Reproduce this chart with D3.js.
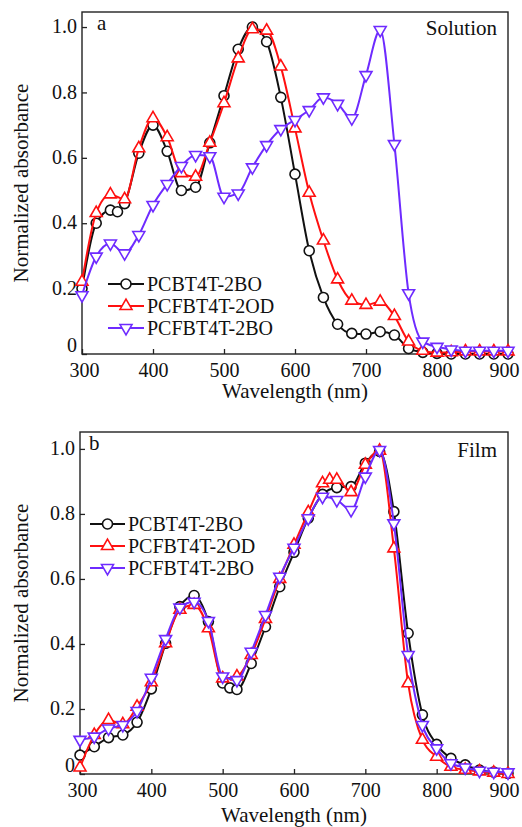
<!DOCTYPE html>
<html>
<head>
<meta charset="utf-8">
<script src="https://cdn.jsdelivr.net/npm/d3@7"></script>
<style>
  body { margin: 0; background: #fff; }
  text { font-family: "Liberation Serif", "Times New Roman", serif; fill: #111; }
</style>
</head>
<body>
<div id="chart"></div>
<script>
// series names
const names = ["PCBT4T-2BO", "PCFBT4T-2OD", "PCFBT4T-2BO"];
const xTicks = [300, 400, 500, 600, 700, 800, 900];
const yTicks = [0, 0.2, 0.4, 0.6, 0.8, 1.0];

// (a) solution
const wlSolBlack = [300,320,340,350,360,380,400,420,440,460,480,500,520,540,560,580,600,620,640,660,680,700,720,740,760,780,800,820,840,860,880,900];
const absSolBlack = [0.20,0.40,0.44,0.435,0.46,0.614,0.70,0.62,0.50,0.51,0.646,0.79,0.932,1.0,0.955,0.785,0.55,0.316,0.173,0.091,0.063,0.061,0.068,0.058,0.017,0.005,0.002,0.0,0.0,0.0,0.0,0.0];
const wlSol = [300,320,340,360,380,400,420,440,460,480,500,520,540,560,580,600,620,640,660,680,700,720,740,760,780,800,820,840,860,880,900];
const absSolRed = [0.221,0.431,0.488,0.473,0.629,0.721,0.663,0.553,0.542,0.646,0.767,0.904,0.993,0.989,0.879,0.69,0.493,0.347,0.228,0.163,0.15,0.16,0.116,0.038,0.01,0.004,0.005,0.008,0.008,0.008,0.008];
const absSolPurple = [0.18,0.298,0.338,0.308,0.364,0.456,0.52,0.575,0.609,0.605,0.481,0.491,0.571,0.639,0.688,0.716,0.746,0.785,0.765,0.721,0.853,0.991,0.642,0.186,0.038,0.022,0.014,0.01,0.01,0.01,0.01];

// (b) film
const wlFilmBlack = [300,320,340,360,380,400,420,440,460,480,500,510,520,540,560,580,600,620,640,660,680,700,720,740,760,780,800,820,840,860,880,900];
const absFilmBlack = [0.058,0.084,0.112,0.12,0.159,0.262,0.402,0.515,0.549,0.469,0.28,0.265,0.26,0.34,0.453,0.576,0.682,0.787,0.86,0.881,0.884,0.956,0.992,0.807,0.433,0.182,0.091,0.048,0.028,0.012,0.006,0.002];
const wlFilmRed = [300,320,340,360,380,400,420,440,460,480,500,520,540,560,580,600,620,640,650,660,680,700,720,740,760,780,800,820,840,860,880,900];
const absFilmRed = [0.02,0.12,0.166,0.153,0.207,0.282,0.402,0.505,0.52,0.448,0.294,0.30,0.366,0.477,0.60,0.705,0.805,0.894,0.905,0.905,0.867,0.951,0.994,0.694,0.279,0.105,0.053,0.022,0.013,0.008,0.004,0.0];
const wlFilm = [300,320,340,360,380,400,420,440,460,480,500,520,540,560,580,600,620,640,660,680,700,720,740,760,780,800,820,840,860,880,900];
const absFilmPurple = [0.105,0.115,0.14,0.151,0.194,0.296,0.415,0.512,0.53,0.471,0.30,0.289,0.376,0.489,0.607,0.696,0.787,0.853,0.843,0.812,0.915,0.997,0.771,0.366,0.151,0.079,0.033,0.02,0.01,0.007,0.005];

const colors = ["#111111", "#ff1010", "#6e2bff"];
const shapes = ["circle", "up", "down"];

const panels = [
  { letter: "a", tag: "Solution", left: 82, right: 508, top: 12, bottom: 354, ymax: 1.046, titleDy: 44,
    series: [d3.zip(wlSolBlack, absSolBlack), d3.zip(wlSol, absSolRed), d3.zip(wlSol, absSolPurple)],
    legend: { x0: 108, x1: 144, y: 284, dy: 22, tx: 147 }, letterX: 97, letterY: 30, tagY: 35 },
  { letter: "b", tag: "Film", left: 80, right: 508, top: 432, bottom: 774, ymax: 1.052, titleDy: 48,
    series: [d3.zip(wlFilmBlack, absFilmBlack), d3.zip(wlFilmRed, absFilmRed), d3.zip(wlFilm, absFilmPurple)],
    legend: { x0: 90, x1: 125, y: 524, dy: 22, tx: 128 }, letterX: 89, letterY: 450, tagY: 457 }
];

const svg = d3.select("#chart").append("svg")
  .attr("width", 522).attr("height", 827);

function marker(g, shape, color) {
  if (shape === "circle") {
    g.append("circle").attr("r", 5)
      .attr("fill", "#fff").attr("stroke", color).attr("stroke-width", 1.6);
  } else {
    g.append("path")
      .attr("d", d3.symbol().type(d3.symbolTriangle).size(62)())
      .attr("transform", shape === "down" ? "rotate(180)" : null)
      .attr("fill", "#fff").attr("stroke", color).attr("stroke-width", 1.6);
  }
}

panels.forEach(function(p) {
  const x = d3.scaleLinear().domain([300, 900]).range([p.left, p.right]);
  const y = d3.scaleLinear().domain([0, p.ymax]).range([p.bottom, p.top]);
  const g = svg.append("g");

  // axes (ticks point inward)
  const xa = g.append("g").attr("transform", "translate(0," + p.bottom + ")")
    .call(d3.axisBottom(x).tickValues(xTicks).tickSizeInner(-5).tickSizeOuter(0).tickPadding(9));
  const ya = g.append("g").attr("transform", "translate(" + p.left + ",0)")
    .call(d3.axisLeft(y).tickValues(yTicks).tickSizeInner(-5).tickSizeOuter(0).tickPadding(5)
      .tickFormat(function(d) { return d === 0 ? "0" : d3.format(".1f")(d); }));
  [xa, ya].forEach(function(a) {
    a.select(".domain").remove();
    a.selectAll("line").attr("stroke", "#222").attr("stroke-width", 1.3);
    a.selectAll("text").style("font-family", "Liberation Serif").style("font-size", "20px").attr("fill", "#111");
  });
  ya.selectAll("text").attr("dy", d => d === 0 ? "-0.12em" : "0.28em");
  xa.selectAll("text").filter(d => d === 900).attr("dx", -4);
  xa.selectAll("text").filter(d => d === 300).attr("dx", 2);

  // frame
  g.append("rect").attr("x", p.left).attr("y", p.top)
    .attr("width", p.right - p.left).attr("height", p.bottom - p.top)
    .attr("fill", "none").attr("stroke", "#222").attr("stroke-width", 1.4);

  // axis titles
  g.append("text").attr("x", (p.left + p.right) / 2).attr("y", p.bottom + p.titleDy)
    .attr("text-anchor", "middle").style("font-size", "21px").text("Wavelength (nm)");
  g.append("text")
    .attr("transform", "translate(28," + ((p.top + p.bottom) / 2) + ") rotate(-90)")
    .attr("text-anchor", "middle").style("font-size", "21px").text("Normalized absorbance");

  g.append("text").attr("x", p.letterX).attr("y", p.letterY).style("font-size", "21px").text(p.letter);
  g.append("text").attr("x", 497).attr("y", p.tagY).attr("text-anchor", "end")
    .style("font-size", "21px").text(p.tag);

  const line = d3.line().x(d => x(d[0])).y(d => y(d[1])).curve(d3.curveMonotoneX);

  p.series.forEach(function(s, i) {
    g.append("path").datum(s).attr("d", line)
      .attr("fill", "none").attr("stroke", colors[i]).attr("stroke-width", 2);
    g.append("g").selectAll("g").data(s).enter().append("g")
      .attr("transform", d => "translate(" + x(d[0]) + "," + y(d[1]) + ")")
      .each(function() { marker(d3.select(this), shapes[i], colors[i]); });
  });

  // legend
  names.forEach(function(n, i) {
    const ly = p.legend.y + i * p.legend.dy;
    g.append("line").attr("x1", p.legend.x0).attr("x2", p.legend.x1)
      .attr("y1", ly).attr("y2", ly).attr("stroke", colors[i]).attr("stroke-width", 2);
    const mg = g.append("g").attr("transform", "translate(" + ((p.legend.x0 + p.legend.x1) / 2) + "," + ly + ")");
    marker(mg, shapes[i], colors[i]);
    g.append("text").attr("x", p.legend.tx).attr("y", ly + 7)
      .style("font-size", "20px").text(n);
  });
});
</script>
</body>
</html>
